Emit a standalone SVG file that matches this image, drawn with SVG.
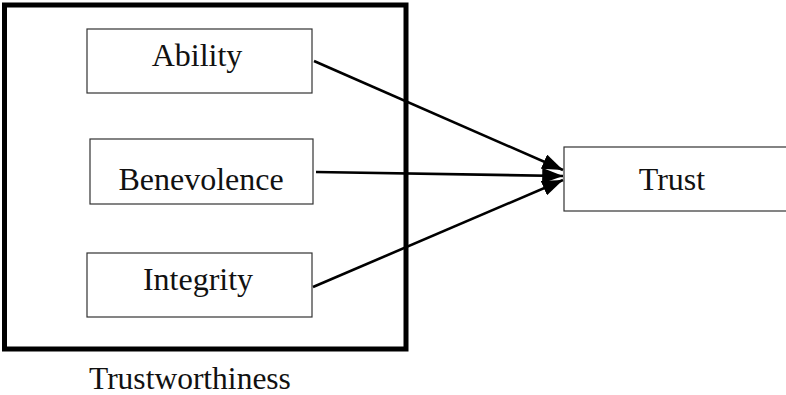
<svg xmlns="http://www.w3.org/2000/svg" width="786" height="395" viewBox="0 0 786 395">
<defs>
<style>
.box{fill:#fff;stroke:#333;stroke-width:1.2}
.lbl{font-family:"Liberation Serif","Times New Roman",serif;font-size:32px;fill:#111;text-anchor:middle}
.conn{stroke:#000;stroke-width:2.6;fill:none;marker-end:url(#arr)}
</style>
<marker id="arr" markerWidth="8" markerHeight="6" refX="8" refY="3" orient="auto" markerUnits="strokeWidth">
<path d="M0,0 L8,3 L0,6 Z" fill="#000"/>
</marker>
</defs>
<rect width="786" height="395" fill="#fff"/>
<g id="trustworthiness">
<rect x="4.5" y="5" width="401.5" height="344" fill="none" stroke="#000" stroke-width="5"/>
<text x="89" y="389" font-family="Liberation Serif, Times New Roman, serif" font-size="31.5" fill="#111">Trustworthiness</text>
</g>
<g id="ability">
<rect class="box" x="87" y="29" width="225" height="64"/>
<text class="lbl" x="197" y="66">Ability</text>
</g>
<g id="benevolence">
<rect class="box" x="90" y="139" width="223" height="65"/>
<text class="lbl" x="201" y="190">Benevolence</text>
</g>
<g id="integrity">
<rect class="box" x="87" y="253" width="225" height="64"/>
<text class="lbl" x="198" y="290">Integrity</text>
</g>
<g id="trust">
<rect class="box" x="564" y="147" width="224" height="64"/>
<text class="lbl" x="672" y="189.5">Trust</text>
</g>
<g id="connectors">
<line class="conn" x1="314" y1="61" x2="563" y2="170"/>
<line class="conn" x1="316" y1="172" x2="563" y2="176"/>
<line class="conn" x1="313" y1="287" x2="563" y2="180"/>
</g>
</svg>
